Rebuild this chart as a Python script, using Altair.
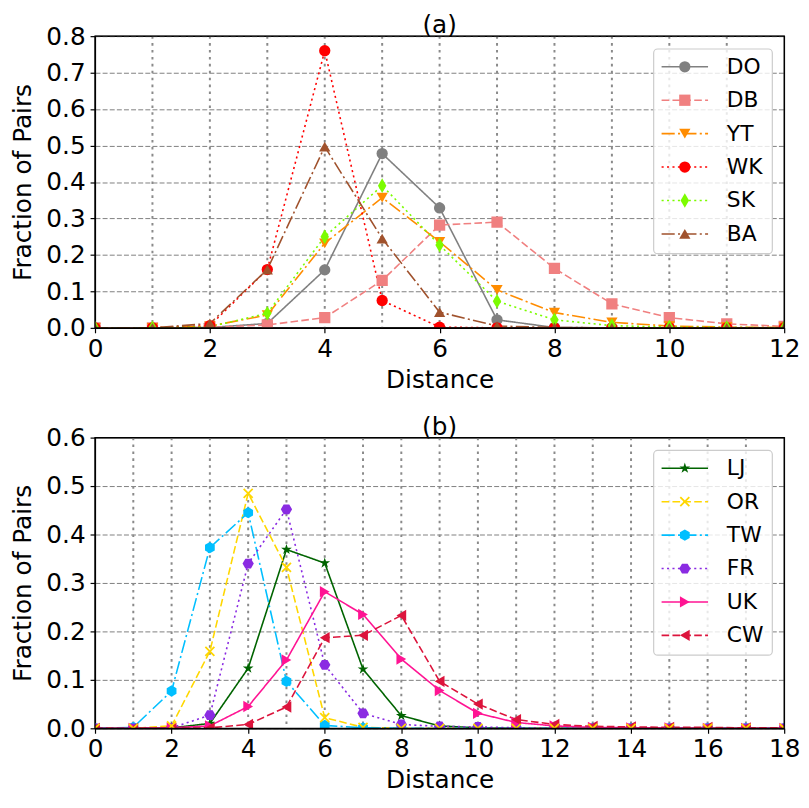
import altair as alt
import pandas as pd

# ---------------- data ----------------
dist_a = list(range(0, 13))
DO = [0, 0, 0.001, 0.012, 0.159, 0.478, 0.329, 0.022, 0.001, 0, 0, 0, 0]
DB = [0, 0, 0.001, 0.008, 0.028, 0.130, 0.282, 0.290, 0.163, 0.066, 0.028, 0.011, 0.004]
YT = [0, 0, 0.005, 0.035, 0.232, 0.357, 0.236, 0.104, 0.042, 0.015, 0.005, 0.002, 0.001]
WK = [0, 0, 0.006, 0.160, 0.760, 0.075, 0.002, 0, 0, 0, 0, 0, 0]
SK = [0, 0, 0.003, 0.040, 0.250, 0.390, 0.227, 0.073, 0.022, 0.006, 0.002, 0.001, 0]
BA = [0, 0, 0.012, 0.160, 0.497, 0.245, 0.043, 0.005, 0.001, 0, 0, 0, 0]

dist_b = list(range(0, 19))
LJ = [0, 0, 0.001, 0.010, 0.124, 0.369, 0.341, 0.122, 0.026, 0.005, 0.001, 0, 0, 0, 0, 0, 0, 0, 0]
OR = [0, 0, 0.005, 0.159, 0.485, 0.332, 0.022, 0.002, 0, 0, 0, 0, 0, 0, 0, 0, 0, 0, 0]
TW = [0, 0.002, 0.077, 0.373, 0.445, 0.097, 0.006, 0.001, 0, 0, 0, 0, 0, 0, 0, 0, 0, 0, 0]
FR = [0, 0, 0.001, 0.027, 0.340, 0.452, 0.131, 0.031, 0.008, 0.004, 0.003, 0.001, 0, 0, 0, 0, 0, 0, 0]
UK = [0, 0, 0.001, 0.005, 0.045, 0.141, 0.282, 0.235, 0.143, 0.078, 0.031, 0.012, 0.005, 0.002, 0.001, 0.001, 0, 0, 0]
CW = [0, 0, 0, 0.001, 0.008, 0.044, 0.187, 0.192, 0.233, 0.097, 0.050, 0.018, 0.008, 0.004, 0.003, 0.002, 0.002, 0.001, 0.001]

names_a = ["DO", "DB", "YT", "WK", "SK", "BA"]
names_b = ["LJ", "OR", "TW", "FR", "UK", "CW"]
series_a = [DO, DB, YT, WK, SK, BA]
series_b = [LJ, OR, TW, FR, UK, CW]
titles = ["(a)", "(b)"]

colors = {
    "DO": "#808080", "DB": "#F08080", "YT": "#FF8C00", "WK": "#FF0000",
    "SK": "#7CFC00", "BA": "#A0522D",
    "LJ": "#006400", "OR": "#FFD700", "TW": "#00BFFF", "FR": "#8A2BE2",
    "UK": "#FF1493", "CW": "#DC143C",
}
SOLID = [1, 0]
DASH = [7.7, 3.3]
DASHDOT = [13.3, 3.3, 2.1, 3.3]
DOT = [2.1, 3.4]
dashes = {
    "DO": SOLID, "DB": DASH, "YT": DASHDOT, "WK": DOT, "SK": DOT, "BA": DASHDOT,
    "LJ": SOLID, "OR": DASH, "TW": DASHDOT, "FR": DOT, "UK": SOLID, "CW": DASH,
}
STAR = ("M0,-1L0.2245,-0.309L0.951,-0.309L0.363,0.118L0.588,0.809L0,0.382"
        "L-0.588,0.809L-0.363,0.118L-0.951,-0.309L-0.2245,-0.309Z")
XMARK = "M-0.8,-0.8L0.8,0.8M-0.8,0.8L0.8,-0.8"
HEX_P = "M0,-1L0.866,-0.5L0.866,0.5L0,1L-0.866,0.5L-0.866,-0.5Z"
HEX_F = "M-1,0L-0.5,-0.866L0.5,-0.866L1,0L0.5,0.866L-0.5,0.866Z"
THIN_D = "M0,-1.3L0.75,0L0,1.3L-0.75,0Z"
shapes = {
    "DO": "circle", "DB": "square", "YT": "triangle-down", "WK": "circle",
    "SK": THIN_D, "BA": "triangle-up",
    "LJ": STAR, "OR": XMARK, "TW": HEX_P, "FR": HEX_F,
    "UK": "triangle-right", "CW": "triangle-left",
}

all_names = names_a + names_b
color_scale = alt.Scale(domain=all_names, range=[colors[n] for n in all_names])
dash_scale = alt.Scale(domain=all_names, range=[dashes[n] for n in all_names])
shape_scale = alt.Scale(domain=all_names, range=[shapes[n] for n in all_names])

FONT = "DejaVu Sans"
FS = 25
W = 697
MS = 130


def long_df(xs, names, series):
    rows = []
    for n, s in zip(names, series):
        for x, y in zip(xs, s):
            rows.append({"x": x, "y": y, "name": n})
    return pd.DataFrame(rows)


def panel(xs, names, series, xmax, ymax, title, h):
    df = long_df(xs, names, series)
    xscale = alt.Scale(domain=[0, xmax], nice=False, zero=False)
    yscale = alt.Scale(domain=[0, ymax], nice=False)
    xaxis = alt.Axis(values=list(range(0, xmax + 1, 2)), format="d", title="Distance",
                     grid=False, labelFlush=False, labelPadding=4, titlePadding=6)
    yaxis = alt.Axis(values=[round(i * 0.1, 1) for i in range(int(round(ymax * 10)) + 1)],
                     format=".1f", title="Fraction of Pairs", grid=True,
                     labelPadding=5, titleX=-65, titleBaseline="alphabetic")
    X = alt.X("x:Q", scale=xscale, axis=xaxis)
    Y = alt.Y("y:Q", scale=yscale, axis=yaxis)
    col = alt.Color("name:N", scale=color_scale, legend=None)
    dsh = alt.StrokeDash("name:N", scale=dash_scale, legend=None)
    shp = alt.Shape("name:N", scale=shape_scale, legend=None)

    vgrid = alt.Chart(pd.DataFrame({"x": list(range(1, xmax))})).mark_rule(
        color="#8a8a8a", strokeWidth=2, strokeDash=[2.6, 4.4]
    ).encode(x=X)

    base = alt.Chart(df).encode(x=X, y=Y, color=col)
    lines = base.mark_line(strokeWidth=1.6, clip=True).encode(strokeDash=dsh)
    filled_pts = base.transform_filter("datum.name != 'OR'").mark_point(
        filled=True, size=MS, opacity=1, clip=True).encode(shape=shp)
    layers = [vgrid, lines, filled_pts]
    if "OR" in names:
        open_pts = base.transform_filter("datum.name == 'OR'").mark_point(
            filled=False, size=MS, opacity=1, strokeWidth=1.8, clip=True).encode(shape=shp)
        layers.append(open_pts)

    # plot frame on top (matplotlib spines)
    border = alt.Chart(pd.DataFrame({"k": [0]})).mark_rect(
        fillOpacity=0, stroke="black", strokeWidth=1.2
    ).encode(x=alt.value(0), x2=alt.value(W), y=alt.value(0), y2=alt.value(h))
    layers.append(border)

    # panel title above the plot
    ttl = alt.Chart(pd.DataFrame({"t": [title]})).mark_text(
        fontSize=FS, font=FONT, color="black", align="center", baseline="middle"
    ).encode(x=alt.value(W / 2), y=alt.value(-11), text="t:N")
    layers.append(ttl)

    # legend (drawn inside the plot, top right)
    leg = pd.DataFrame({"name": names, "idx": list(range(len(names)))})
    legbase = alt.Chart(leg).transform_calculate(py="31 + datum.idx * 33.8")
    LY = alt.Y("py:Q", scale=None, axis=None)
    frame = alt.Chart(pd.DataFrame({"k": [0]})).mark_rect(
        fill="white", fillOpacity=0.8, stroke="#cccccc", strokeWidth=1.2, cornerRadius=4
    ).encode(x=alt.value(W - 132), x2=alt.value(W - 12), y=alt.value(13), y2=alt.value(220))
    leg_lines = legbase.mark_rule(strokeWidth=1.6).encode(
        x=alt.value(W - 124), x2=alt.value(W - 77), y=LY, color=col, strokeDash=dsh)
    leg_pts = legbase.transform_filter("datum.name != 'OR'").mark_point(
        filled=True, size=MS, opacity=1).encode(x=alt.value(W - 100.5), y=LY, color=col, shape=shp)
    leg_txt = legbase.mark_text(align="left", baseline="middle", fontSize=22, font=FONT,
                                color="black").encode(x=alt.value(W - 58), y=LY, text="name:N")
    layers += [frame, leg_lines, leg_pts]
    if "OR" in names:
        leg_open = legbase.transform_filter("datum.name == 'OR'").mark_point(
            filled=False, size=MS, opacity=1, strokeWidth=1.8).encode(
            x=alt.value(W - 100.5), y=LY, color=col, shape=shp)
        layers.append(leg_open)
    layers.append(leg_txt)

    return alt.layer(*layers).properties(width=W, height=h)


pa = panel(dist_a, names_a, series_a, 12, 0.8, titles[0], 295)
pb = panel(dist_b, names_b, series_b, 18, 0.6, titles[1], 294)

chart = alt.vconcat(pa, pb, spacing=21).properties(
    padding={"left": 2, "top": 0, "right": 0, "bottom": 0}
).configure(font=FONT).configure_axis(
    labelFontSize=FS, titleFontSize=FS, titleFontWeight="normal", labelFont=FONT, titleFont=FONT,
    labelColor="black", titleColor="black", domainColor="black", tickColor="black",
    tickSize=5, tickWidth=1.2, domainWidth=1.2,
    gridColor="#808080", gridDash=[5, 2.2], gridWidth=1, gridOpacity=1,
).configure_view(stroke="black", strokeWidth=1.2)

chart.save("out.html", embed_options={"renderer": "svg", "actions": False})
